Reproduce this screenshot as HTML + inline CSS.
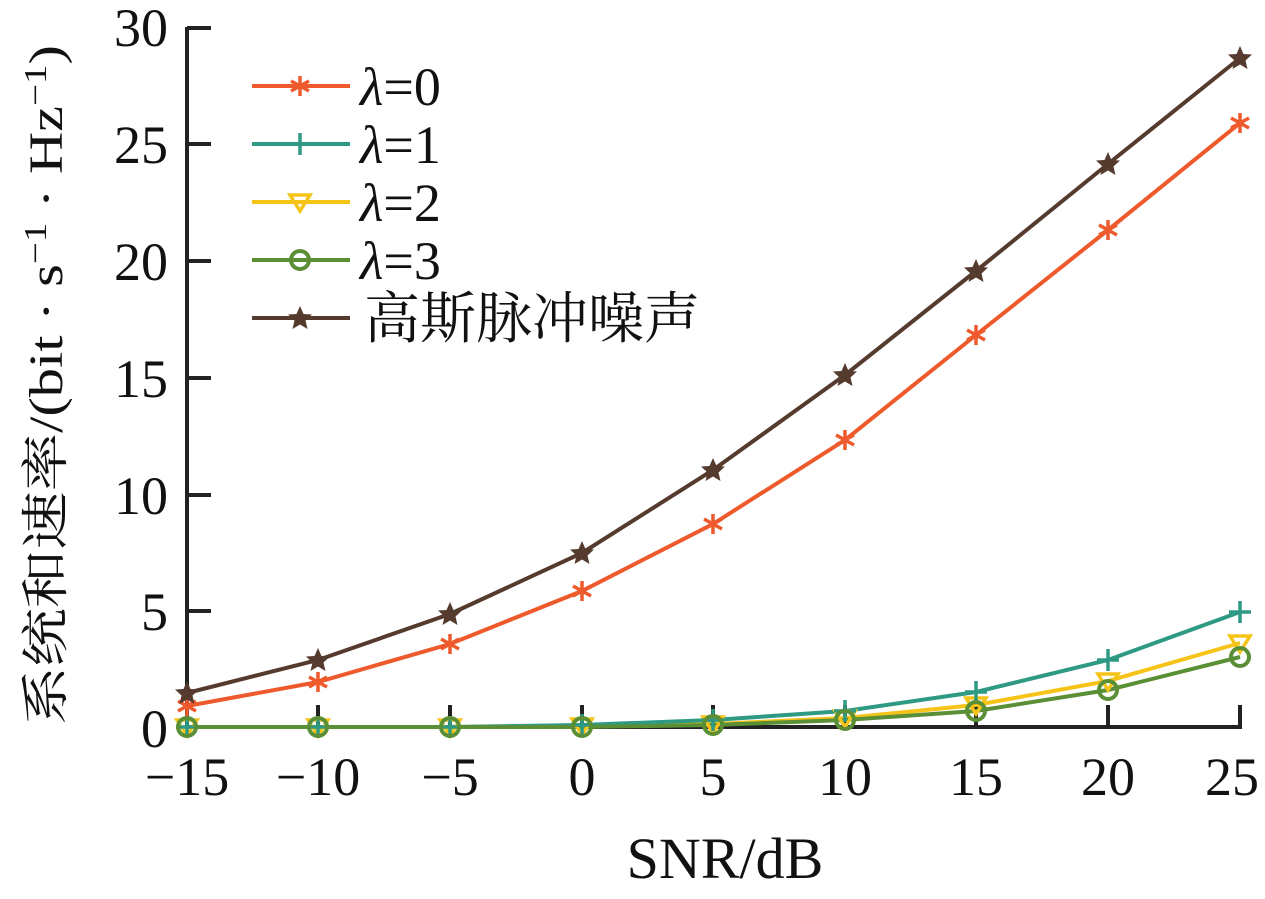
<!DOCTYPE html>
<html><head><meta charset="utf-8"><style>body{margin:0;background:#fff}</style></head><body>
<svg width="1265" height="894" xmlns="http://www.w3.org/2000/svg" font-family="'Liberation Serif','Noto Serif CJK SC',serif">
<g stroke="#222" stroke-width="4" fill="none">
<path d="M187 27 V727 H1240 V705"/>
<path d="M187 28h24 M187 144h24 M187 261h24 M187 378h24 M187 495h24 M187 611h24"/>
<path d="M318 727v-22 M450 727v-22 M582 727v-22 M713 727v-22 M845 727v-22 M976 727v-22 M1108 727v-22"/>
</g>
<g font-size="54" fill="#111" text-anchor="end">
<text x="168" y="46">30</text><text x="168" y="163">25</text><text x="168" y="280">20</text><text x="168" y="397">15</text><text x="168" y="514">10</text><text x="168" y="630">5</text><text x="168" y="747">0</text>
</g>
<g font-size="54" fill="#111" text-anchor="middle">
<text x="187" y="795">−15</text><text x="318" y="795">−10</text><text x="450" y="795">−5</text><text x="582" y="795">0</text><text x="713" y="795">5</text><text x="845" y="795">10</text><text x="976" y="795">15</text><text x="1108" y="795">20</text><text x="1232" y="795">25</text>
<text x="725" y="878" font-size="58">SNR/dB</text>
</g>
<text transform="translate(62 385) rotate(-90)" font-size="48" text-anchor="middle" fill="#111" textLength="680" lengthAdjust="spacingAndGlyphs">系统和速率/(bit · s<tspan dy="-16" font-size="32">−1</tspan><tspan dy="16"> · Hz</tspan><tspan dy="-16" font-size="32">−1</tspan><tspan dy="16">)</tspan></text>
<defs>
<g id="ast" stroke="#ee5a2c" stroke-width="3.5"><path d="M0 -10V10M-9 -5L9 5M-9 5L9 -5"/></g>
<g id="plus" stroke="#2e9a83" stroke-width="3.5"><path d="M0 -11V11M-11 0H11"/></g>
<path id="tri" d="M-10 -7H10L0 9Z" fill="none" stroke="#f6c419" stroke-width="3.5"/>
<circle id="cir" r="9" fill="none" stroke="#5a8f36" stroke-width="4"/>
<path id="star" d="M0 -12L3.5 -4L12 -3.5L5.5 2.5L7.5 11L0 6.5L-7.5 11L-5.5 2.5L-12 -3.5L-3.5 -4Z" fill="#553a2e"/>
</defs>
<g fill="none" stroke-width="4">
<polyline stroke="#f6c419" points="187,727 318,727 450,727 582,726 713,724 845,718 976,705 1108,681 1240,643"/>
<polyline stroke="#2e9a83" points="187,727 318,727 450,727 582,725 713,720 845,711 976,692 1108,660 1240,612"/>
<polyline stroke="#5a8f36" points="187,727 318,727 450,727 582,727 713,725 845,720 976,711 1108,690 1240,657"/>
<polyline stroke="#ee5a2c" points="187,706 318,682 450,644 582,591 713,524 845,440 976,335 1108,230 1240,123"/>
<polyline stroke="#553a2e" points="187,693 318,660 450,614 582,553 713,470 845,375 976,271 1108,164 1240,58"/>
</g>
<g>
<use href="#tri" x="187" y="727"/><use href="#tri" x="318" y="727"/><use href="#tri" x="450" y="727"/><use href="#tri" x="582" y="726"/><use href="#tri" x="713" y="724"/><use href="#tri" x="845" y="718"/><use href="#tri" x="976" y="705"/><use href="#tri" x="1108" y="681"/><use href="#tri" x="1240" y="643"/>
<use href="#plus" x="187" y="727"/><use href="#plus" x="318" y="727"/><use href="#plus" x="450" y="727"/><use href="#plus" x="582" y="725"/><use href="#plus" x="713" y="720"/><use href="#plus" x="845" y="711"/><use href="#plus" x="976" y="692"/><use href="#plus" x="1108" y="660"/><use href="#plus" x="1240" y="612"/>
<use href="#cir" x="187" y="727"/><use href="#cir" x="318" y="727"/><use href="#cir" x="450" y="727"/><use href="#cir" x="582" y="727"/><use href="#cir" x="713" y="725"/><use href="#cir" x="845" y="720"/><use href="#cir" x="976" y="711"/><use href="#cir" x="1108" y="690"/><use href="#cir" x="1240" y="657"/>
<use href="#ast" x="187" y="706"/><use href="#ast" x="318" y="682"/><use href="#ast" x="450" y="644"/><use href="#ast" x="582" y="591"/><use href="#ast" x="713" y="524"/><use href="#ast" x="845" y="440"/><use href="#ast" x="976" y="335"/><use href="#ast" x="1108" y="230"/><use href="#ast" x="1240" y="123"/>
<use href="#star" x="187" y="693"/><use href="#star" x="318" y="660"/><use href="#star" x="450" y="614"/><use href="#star" x="582" y="553"/><use href="#star" x="713" y="470"/><use href="#star" x="845" y="375"/><use href="#star" x="976" y="271"/><use href="#star" x="1108" y="164"/><use href="#star" x="1240" y="58"/>
</g>
<g stroke-width="4">
<line x1="252" y1="86" x2="350" y2="86" stroke="#ee5a2c"/><use href="#ast" x="300" y="86"/>
<line x1="252" y1="144" x2="350" y2="144" stroke="#2e9a83"/><use href="#plus" x="300" y="144"/>
<line x1="252" y1="202" x2="350" y2="202" stroke="#f6c419"/><use href="#tri" x="300" y="202"/>
<line x1="252" y1="260" x2="350" y2="260" stroke="#5a8f36"/><use href="#cir" x="300" y="260"/>
<line x1="252" y1="318" x2="350" y2="318" stroke="#553a2e"/><use href="#star" x="300" y="318"/>
</g>
<g font-size="54" fill="#111">
<text x="360" y="105"><tspan font-style="italic">λ</tspan>=0</text>
<text x="360" y="163"><tspan font-style="italic">λ</tspan>=1</text>
<text x="360" y="221"><tspan font-style="italic">λ</tspan>=2</text>
<text x="360" y="279"><tspan font-style="italic">λ</tspan>=3</text>
<text x="364" y="338" font-size="56">高斯脉冲噪声</text>
</g>
</svg>
</body></html>
